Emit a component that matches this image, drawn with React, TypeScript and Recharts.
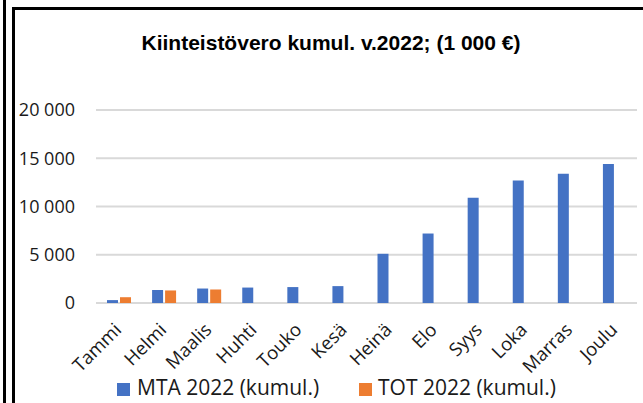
import React from 'react';
import { BarChart, Bar, XAxis, YAxis, CartesianGrid } from 'recharts';

const months = ['Tammi', 'Helmi', 'Maalis', 'Huhti', 'Touko', 'Kesä', 'Heinä', 'Elo', 'Syys', 'Loka', 'Marras', 'Joulu'];
const mta2022 = [300, 1350, 1500, 1600, 1650, 1750, 5100, 7200, 10900, 12700, 13400, 14400];
const tot2022 = [600, 1300, 1400, null, null, null, null, null, null, null, null, null];
const yTicks = [0, 5000, 10000, 15000, 20000];

const data = months.map((m, i) => ({ name: m, mta: mta2022[i], tot: tot2022[i] }));

const FONT = '"Open Sans", sans-serif';
const fmt = (v: number) => (v === 0 ? '0' : v.toLocaleString('fi-FI').replace(/\s/g, ' '));

const MonthTick = (props: any) => {
  const { x, y, payload } = props;
  return (
    <text
      x={x + 4}
      y={y + 28}
      transform={`rotate(-45, ${x + 4}, ${y + 28})`}
      textAnchor="end"
      fontFamily={FONT}
      fontSize={18.5}
      fill="#1a1a1a"
    >
      {payload.value}
    </text>
  );
};

const App: React.FC = () => {
  return (
    <div style={{ position: 'absolute', left: 0, top: 0, width: 643, height: 403, background: '#fff', overflow: 'hidden' }}>
      <div style={{ position: 'absolute', left: 3, top: 0, width: 3, height: 403, background: '#000' }} />
      <div style={{ position: 'absolute', left: 12, top: 7, width: 3, height: 396, background: '#000' }} />
      <div style={{ position: 'absolute', left: 12, top: 7, width: 631, height: 3, background: '#000' }} />
      <div
        style={{
          position: 'absolute', left: 0, width: 662, top: 31, textAlign: 'center',
          fontFamily: '"Liberation Sans", Arial, sans-serif', fontWeight: 'bold', fontSize: 21, color: '#000',
        }}
      >
        Kiinteistövero kumul. v.2022; (1 000 €)
      </div>
      <div style={{ position: 'absolute', left: 0, top: 0 }}>
        <BarChart width={643} height={403} data={data} margin={{ top: 110, right: 6, bottom: 39, left: 0 }} barGap={2} barSize={11}>
          <CartesianGrid vertical={false} stroke="#d9d9d9" strokeWidth={2} />
          <XAxis dataKey="name" axisLine={false} tickLine={false} tickSize={0} tickMargin={0} height={61} interval={0} tick={<MonthTick />} />
          <YAxis
            width={96}
            domain={[0, 20000]}
            ticks={yTicks}
            axisLine={false}
            tickLine={false}
            tickSize={0}
            tickMargin={21}
            tickFormatter={fmt}
            tick={{ fontFamily: FONT, fontSize: 18, fill: '#1a1a1a' }}
          />
          <Bar dataKey="mta" name="MTA 2022 (kumul.)" fill="#4472c4" isAnimationActive={false} />
          <Bar dataKey="tot" name="TOT 2022 (kumul.)" fill="#ed7d31" isAnimationActive={false} />
        </BarChart>
      </div>
      <div style={{ position: 'absolute', left: 117, top: 383, width: 13, height: 13, background: '#4472c4' }} />
      <div style={{ position: 'absolute', left: 137, top: 373, fontFamily: FONT, fontSize: 21, color: '#1a1a1a', whiteSpace: 'nowrap' }}>
        MTA 2022 (kumul.)
      </div>
      <div style={{ position: 'absolute', left: 359, top: 383, width: 13, height: 13, background: '#ed7d31' }} />
      <div style={{ position: 'absolute', left: 378, top: 373, fontFamily: FONT, fontSize: 21, color: '#1a1a1a', whiteSpace: 'nowrap' }}>
        TOT 2022 (kumul.)
      </div>
    </div>
  );
};

export default App;
